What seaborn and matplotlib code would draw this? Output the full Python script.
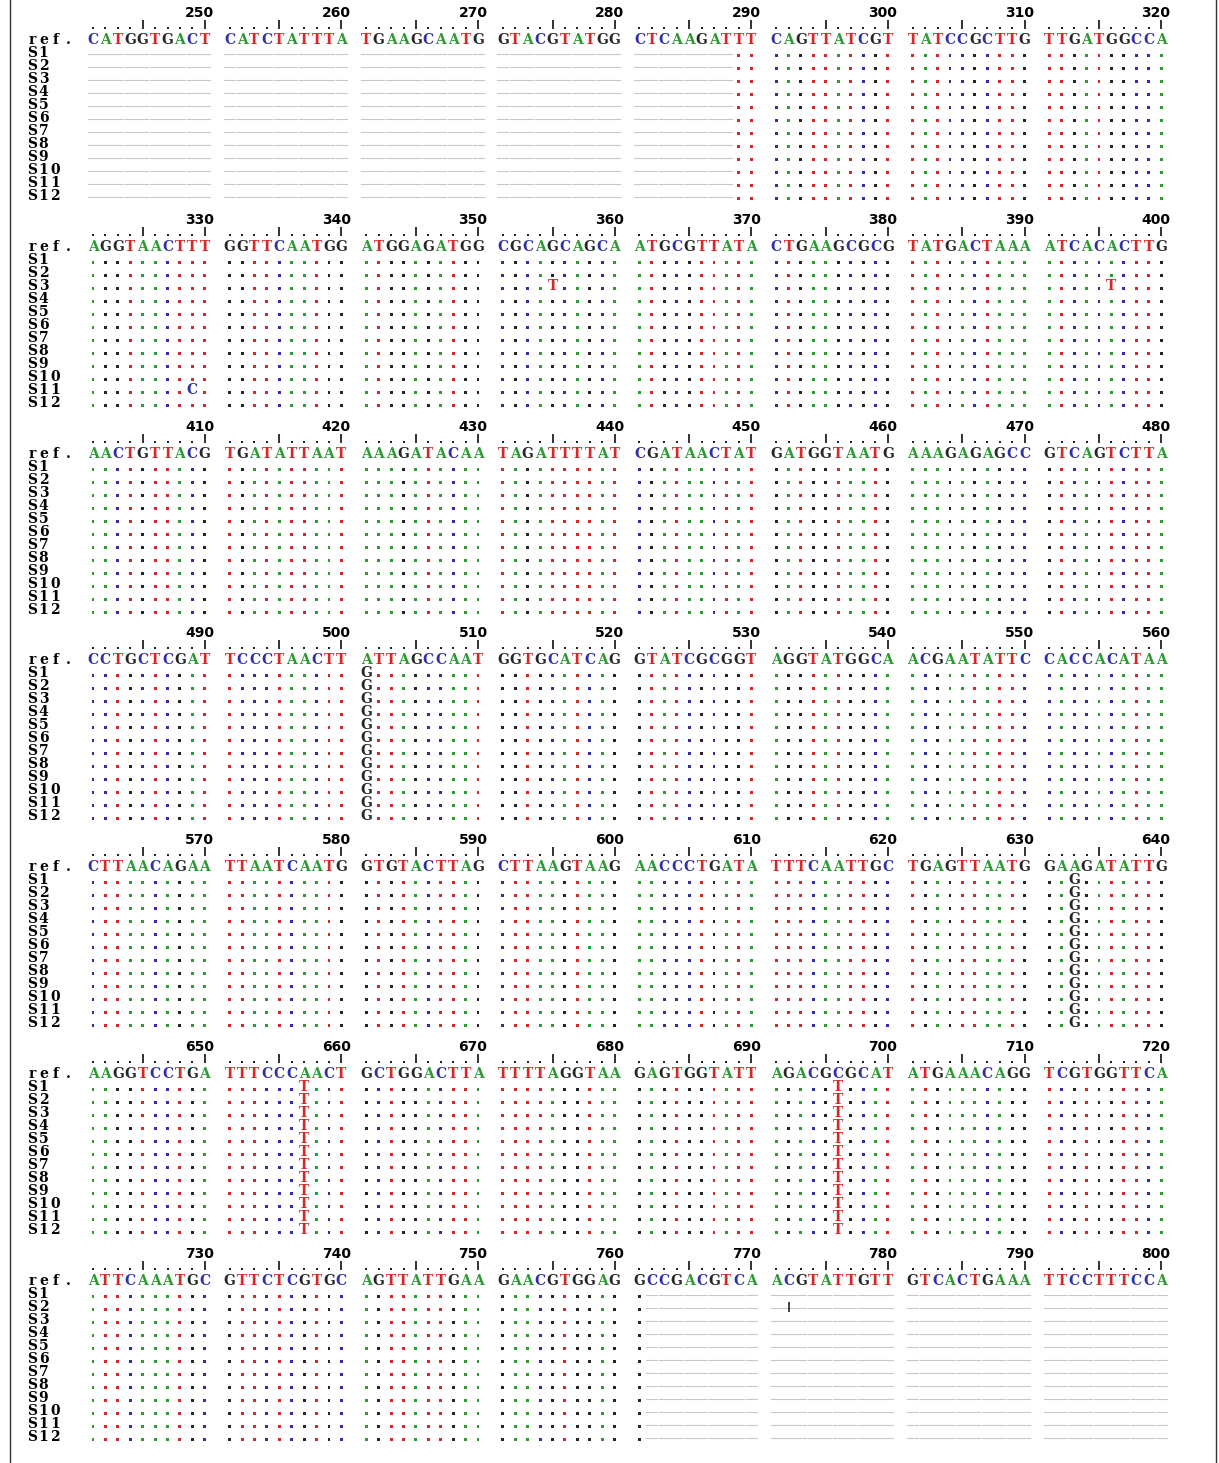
import numpy as np
import pandas as pd
import matplotlib
matplotlib.use("Agg")
import matplotlib.pyplot as plt
import seaborn as sns

# --- data: reference sequence, 80 bases per block ---
ref_blocks = [
    "CATGGTGACT CATCTATTTA TGAAGCAATG GTACGTATGG CTCAAGATTT CAGTTATCGT TATCCGCTTG TTGATGGCCA",
    "AGGTAACTTT GGTTCAATGG ATGGAGATGG CGCAGCAGCA ATGCGTTATA CTGAAGCGCG TATGACTAAA ATCACACTTG",
    "AACTGTTACG TGATATTAAT AAAGATACAA TAGATTTTAT CGATAACTAT GATGGTAATG AAAGAGAGCC GTCAGTCTTA",
    "CCTGCTCGAT TCCCTAACTT ATTAGCCAAT GGTGCATCAG GTATCGCGGT AGGTATGGCA ACGAATATTC CACCACATAA",
    "CTTAACAGAA TTAATCAATG GTGTACTTAG CTTAAGTAAG AACCCTGATA TTTCAATTGC TGAGTTAATG GAAGATATTG",
    "AAGGTCCTGA TTTCCCAACT GCTGGACTTA TTTTAGGTAA GAGTGGTATT AGACGCGCAT ATGAAACAGG TCGTGGTTCA",
    "ATTCAAATGC GTTCTCGTGC AGTTATTGAA GAACGTGGAG GCCGACGTCA ACGTATTGTT GTCACTGAAA TTCCTTTCCA",
]
block_starts = [241, 321, 401, 481, 561, 641, 721]
samples = ["S1", "S2", "S3", "S4", "S5", "S6", "S7", "S8", "S9", "S10", "S11", "S12"]

# gap ranges (same in every sample)
gap_from = [241, 762]
gap_to = [288, 800]

# variants found in all samples
shared_pos = [501, 633, 657, 696]
shared_base = ["G", "G", "T", "T"]
# variants found in single samples
single_sample = ["S3", "S3", "S11"]
single_pos = [355, 396, 329]
single_base = ["T", "T", "C"]

# odd mark in S2
mark_sample = "S2"
mark_pos = 772

base_colors = {"A": "#2e9a35", "C": "#2f2fa6", "G": "#262626", "T": "#d62828"}

# --- layout helpers ---
X0 = 93
STEP = 12.42
Y0 = 40
BLOCK_H = 206.8
ROW_H = 13


def col_x(i):
    return X0 + (i + i // 10) * STEP


def is_gap(p):
    return any(a <= p <= b for a, b in zip(gap_from, gap_to))


variants = {}
for p, b in zip(shared_pos, shared_base):
    for s in samples:
        variants[(s, p)] = b
for s, p, b in zip(single_sample, single_pos, single_base):
    variants[(s, p)] = b

dots, gaps, letters = [], [], []
for k, (seq, start) in enumerate(zip(ref_blocks, block_starts)):
    seq = seq.replace(" ", "")
    ref_y = Y0 + k * BLOCK_H
    for r, s in enumerate(samples):
        y = ref_y + (r + 1) * ROW_H
        for i, ch in enumerate(seq):
            p = start + i
            x = col_x(i)
            if is_gap(p):
                gaps.append((x, y))
            elif (s, p) in variants:
                letters.append((x, y, variants[(s, p)]))
            else:
                dots.append({"x": x, "y": y + 2.5, "base": ch})
dots = pd.DataFrame(dots)

fig = plt.figure(figsize=(12.19, 14.63), dpi=100)
ax = fig.add_axes([0, 0, 1, 1])
ax.set_xlim(0, 1219)
ax.set_ylim(1463, 0)
ax.axis("off")

serif = "DejaVu Serif"
FS = 10


def wide_label(x, y, txt, pitch=11.5):
    # labels in the picture are drawn wide, one char per cell
    for j, c in enumerate(txt):
        ax.text(x + 5 + j * pitch, y, c, ha="center", va="center", fontsize=FS,
                fontweight="bold", family=serif)


# dots for identical bases
sns.scatterplot(data=dots, x="x", y="y", hue="base", palette=base_colors,
                s=4.5, marker="s", linewidth=0, legend=False, ax=ax)

# gaps as light dashes
for x, y in gaps:
    ax.plot([x - 5.5, x + 5.5], [y + 1, y + 1], color="#c8c8c8", lw=0.8)

# variant letters
for x, y, b in letters:
    ax.text(x, y, b, color=base_colors[b], ha="center", va="center",
            fontsize=FS, fontweight="bold", family=serif)

for k, (seq, start) in enumerate(zip(ref_blocks, block_starts)):
    seq = seq.replace(" ", "")
    ref_y = Y0 + k * BLOCK_H
    # ref row
    wide_label(27, ref_y, "ref.", pitch=12)
    for i, ch in enumerate(seq):
        ax.text(col_x(i), ref_y, ch, color=base_colors[ch], ha="center",
                va="center", fontsize=FS, fontweight="bold", family=serif)
    # sample labels
    for r, s in enumerate(samples):
        wide_label(27, ref_y + (r + 1) * ROW_H, s)
    # ruler and position numbers
    rx, tx = [], []
    for i in range(80):
        if (i + 1) % 5 == 0:
            tx.append(col_x(i))
        else:
            rx.append(col_x(i))
    ax.scatter(rx, [ref_y - 12] * len(rx), s=3, marker="s", color="#222222", linewidths=0)
    ax.vlines(tx, ref_y - 20, ref_y - 11, color="#222222", lw=1.3)
    for i in range(9, 80, 10):
        ax.text(col_x(i) - 5, ref_y - 27, str(start + i), ha="center", va="center",
                fontsize=10, fontweight="bold", family="DejaVu Sans")

# the cursor-like mark in S2
mk = block_starts.index(721)
mi = mark_pos - 721
my = Y0 + mk * BLOCK_H + (samples.index(mark_sample) + 1) * ROW_H
ax.vlines([col_x(mi)], my - 5, my + 5, color="#222222", lw=1.2)

# frame
ax.plot([10, 10], [0, 1463], color="#333333", lw=1)
ax.plot([1216, 1216], [0, 1463], color="#333333", lw=1)

fig.savefig("out.png", dpi=100)
